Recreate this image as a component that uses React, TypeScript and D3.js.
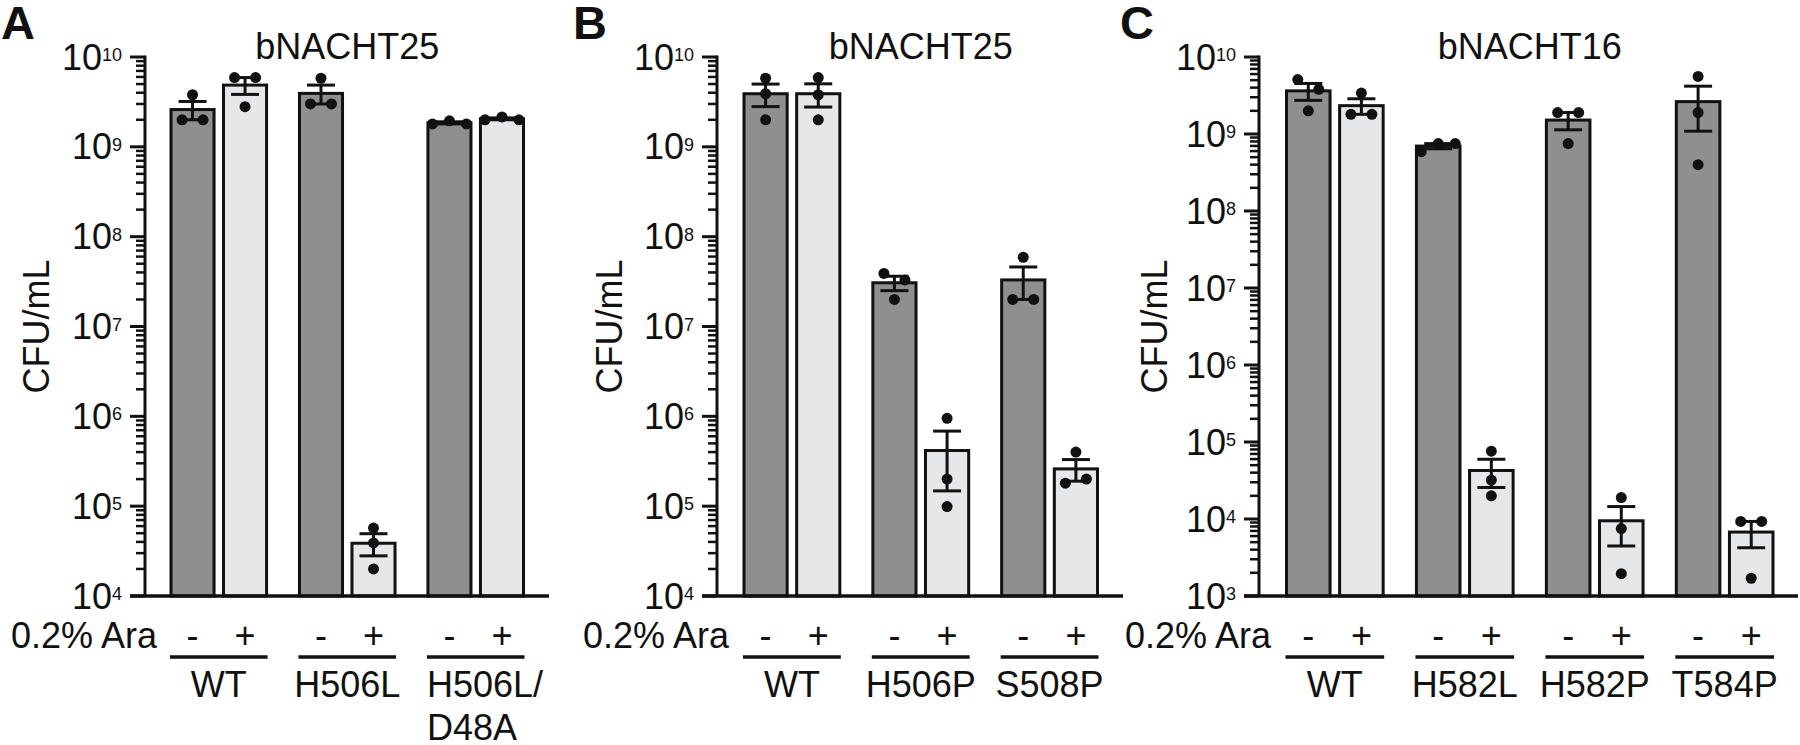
import React from 'react';
import * as d3 from 'd3';

const W = 1800;
const H = 745;
const FONT = '"Liberation Sans", Arial, Helvetica, sans-serif';

const conditions = ['-', '+'];
const araLabel = '0.2% Ara';
const yLabel = 'CFU/mL';

// panel A - bNACHT25
const titleA = 'bNACHT25';
const groupsA = ['WT', 'H506L', 'H506L/|D48A'];
const minusA = [[2.0e9, 2.0e9, 3.8e9], [5.8e9, 3.0e9, 3.0e9], [1.8e9, 1.95e9, 1.8e9]];
const plusA = [[5.9e9, 5.9e9, 2.8e9], [5.7e4, 3.9e4, 2.0e4], [2.0e9, 2.15e9, 2.0e9]];

// panel B - bNACHT25
const titleB = 'bNACHT25';
const groupsB = ['WT', 'H506P', 'S508P'];
const minusB = [[5.8e9, 3.9e9, 2.0e9], [3.9e7, 3.3e7, 2.0e7], [5.9e7, 2.0e7, 2.0e7]];
const plusB = [[5.9e9, 3.8e9, 2.0e9], [9.5e5, 2.0e5, 9.9e4], [4.0e5, 1.8e5, 2.0e5]];

// panel C - bNACHT16
const titleC = 'bNACHT16';
const groupsC = ['WT', 'H582L', 'H582P', 'T584P'];
const minusC = [[5.1e9, 3.8e9, 2.0e9], [5.9e8, 7.5e8, 7.5e8], [1.9e9, 1.9e9, 7.5e8], [5.6e9, 1.9e9, 4.0e8]];
const plusC = [[3.4e9, 1.8e9, 1.8e9], [7.6e4, 3.2e4, 2.0e4], [1.9e4, 7.5e3, 1.95e3], [9.3e3, 9.3e3, 1.7e3]];

const panels = [
  { letter: 'A', title: titleA, groups: groupsA, minus: minusA, plus: plusA, domain: [1e4, 1e10],
    axisX: 145, band: [171, 523.5], axisEnd: 549, letterX: 1, yLabelX: 49 },
  { letter: 'B', title: titleB, groups: groupsB, minus: minusB, plus: plusB, domain: [1e4, 1e10],
    axisX: 717, band: [744, 1097.5], axisEnd: 1123, letterX: 573, yLabelX: 622 },
  { letter: 'C', title: titleC, groups: groupsC, minus: minusC, plus: plusC, domain: [1e3, 1e10],
    axisX: 1259, band: [1286.5, 1773], axisEnd: 1798, letterX: 1120, yLabelX: 1167 },
];

const fills = { '-': '#8f8f8f', '+': '#e6e7e9' };
const TOP = 57;
const BOTTOM = 596;
const R = 5.5;

// spread dots sideways when they sit on top of each other
function dotOffsets(ys: number[]) {
  const idx = ys.map((_, i) => i).sort((a, b) => ys[a] - ys[b]);
  const clusters: number[][] = [];
  idx.forEach(i => {
    const last = clusters[clusters.length - 1];
    if (last && Math.abs(ys[i] - ys[last[last.length - 1]]) < 12) last.push(i);
    else clusters.push([i]);
  });
  const off = ys.map(() => 0);
  clusters.forEach(c => {
    const sorted = [...c].sort((a, b) => a - b);
    const gap = sorted.length === 2 ? 21 : 17;
    sorted.forEach((i, k) => { off[i] = (k - (sorted.length - 1) / 2) * gap; });
  });
  return off;
}

function Panel({ p }: { p: any }) {
  const y = d3.scaleLog().domain(p.domain).range([BOTTOM, TOP]);
  const xg = d3.scaleBand().domain(p.groups).range(p.band).paddingInner(0.256);
  const xc = d3.scaleBand().domain(conditions).range([0, xg.bandwidth()]).paddingInner(0.18);
  const ticks = y.ticks();
  const isMajor = (t: number) => Math.abs(Math.log10(t) - Math.round(Math.log10(t))) < 1e-6;
  const cx = (p.band[0] + p.band[1]) / 2;

  return (
    <g>
      <text x={p.letterX} y={39} fontSize={47} fontWeight="bold" fill="#111">{p.letter}</text>
      <text x={cx} y={58.5} fontSize={36} textAnchor="middle" fill="#111">{p.title}</text>

      {/* bars */}
      {p.groups.map((g: string, gi: number) =>
        conditions.map(c => {
          const vals: number[] = c === '-' ? p.minus[gi] : p.plus[gi];
          const m = d3.mean(vals) as number;
          const sem = (d3.deviation(vals) as number) / Math.sqrt(vals.length);
          const x0 = (xg(g) as number) + (xc(c) as number);
          const bw = xc.bandwidth();
          const mx = x0 + bw / 2;
          const ys = vals.map(v => y(v));
          const offs = dotOffsets(ys);
          const hi = y(m + sem);
          const lo = y(Math.max(m - sem, p.domain[0]));
          return (
            <g key={g + c}>
              <rect x={x0} y={y(m)} width={bw} height={BOTTOM - y(m)} fill={fills[c]} stroke="#111" strokeWidth={3} />
              <line x1={mx} x2={mx} y1={hi} y2={lo} stroke="#111" strokeWidth={3} />
              <line x1={mx - 14} x2={mx + 14} y1={hi} y2={hi} stroke="#111" strokeWidth={3} />
              <line x1={mx - 14} x2={mx + 14} y1={lo} y2={lo} stroke="#111" strokeWidth={3} />
              {ys.map((yy, i) => <circle key={i} cx={mx + offs[i]} cy={yy} r={R} fill="#111" />)}
            </g>
          );
        })
      )}

      {/* y axis */}
      <line x1={p.axisX} x2={p.axisX} y1={TOP - 1.5} y2={BOTTOM} stroke="#111" strokeWidth={3} />
      {ticks.map((t, i) => (
        <line key={i} x1={p.axisX - (isMajor(t) ? 15 : 9)} x2={p.axisX} y1={y(t)} y2={y(t)}
          stroke="#111" strokeWidth={isMajor(t) ? 3 : 2.5} />
      ))}
      {ticks.filter(isMajor).map((t, i) => (
        <text key={i} x={p.axisX - 23} y={y(t) + 12.5} fontSize={36} textAnchor="end" fill="#111">
          <tspan>10</tspan>
          <tspan fontSize={18} dy={-8.5}>{Math.round(Math.log10(t))}</tspan>
        </text>
      ))}
      <text transform={`translate(${p.yLabelX},${(TOP + BOTTOM) / 2}) rotate(-90)`} fontSize={36}
        textAnchor="middle" fill="#111">{yLabel}</text>

      {/* x axis */}
      <line x1={p.axisX - 15} x2={p.axisEnd} y1={BOTTOM} y2={BOTTOM} stroke="#111" strokeWidth={3.5} />

      <text x={p.axisX + 12} y={648} fontSize={36} textAnchor="end" fill="#111">{araLabel}</text>
      {p.groups.map((g: string) => {
        const gx = xg(g) as number;
        const lines = g.split('|');
        return (
          <g key={g}>
            {conditions.map(c => (
              <text key={c} x={gx + (xc(c) as number) + xc.bandwidth() / 2} y={648} fontSize={36}
                textAnchor="middle" fill="#111">{c}</text>
            ))}
            <line x1={gx - 1} x2={gx + xg.bandwidth() + 1} y1={657} y2={657} stroke="#111" strokeWidth={3.5} />
            {lines.length > 1
              ? lines.map((l, i) => (
                  <text key={i} x={gx - 1} y={697 + i * 43} fontSize={36} fill="#111">{l}</text>
                ))
              : <text x={gx + xg.bandwidth() / 2} y={697} fontSize={36} textAnchor="middle" fill="#111">{g}</text>}
          </g>
        );
      })}
    </g>
  );
}

export default function App() {
  return (
    <svg width={W} height={H} viewBox={`0 0 ${W} ${H}`}
      style={{ position: 'absolute', left: 0, top: 0, background: '#fff', fontFamily: FONT }}>
      <rect width={W} height={H} fill="#fff" />
      {panels.map(p => <Panel key={p.letter} p={p} />)}
    </svg>
  );
}
